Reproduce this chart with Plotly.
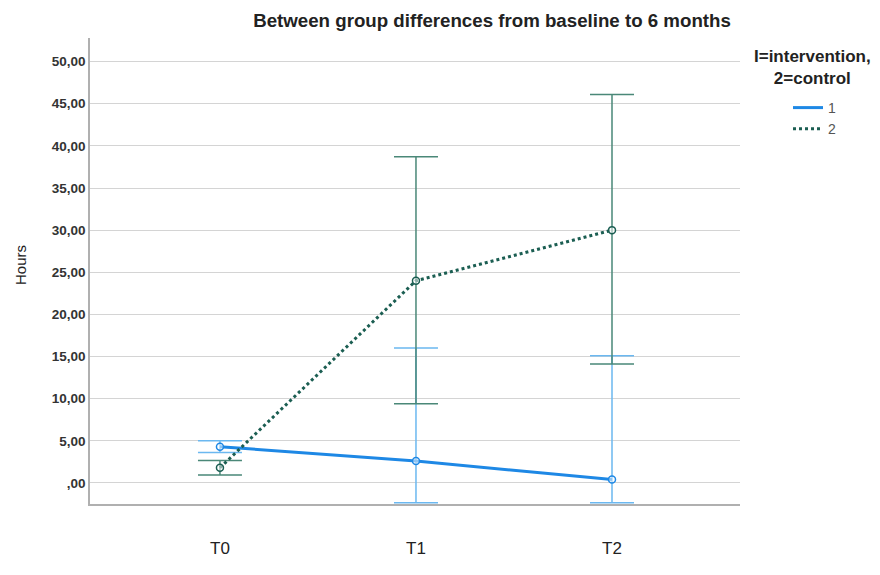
import plotly.graph_objects as go

times = ["T0", "T1", "T2"]
x_pos = [0, 1, 2]

g1_mean = [4.3, 2.6, 0.4]
g1_upper = [5.0, 16.0, 15.1]
g1_lower = [3.6, -2.35, -2.35]

g2_mean = [1.8, 24.0, 30.0]
g2_upper = [2.65, 38.7, 46.1]
g2_lower = [0.95, 9.4, 14.1]

y_ticks = [0, 5, 10, 15, 20, 25, 30, 35, 40, 45, 50]
y_ticktext = [",00", "5,00", "10,00", "15,00", "20,00", "25,00", "30,00",
              "35,00", "40,00", "45,00", "50,00"]

BLUE = "#1E88E5"
BLUE_ERR = "#6BB8F0"
GREEN = "#1B5E52"
GREEN_ERR = "#4A8878"

# page body has an 8px margin, so the figure is drawn 8px smaller and shifted
W, H = 872, 567
L, R, T, B = 82, 140, 30, 71
PW, PH = W - L - R, H - T - B

fig = go.Figure()

for name, mean, up, lo, col, ecol, dash in [
    ("1", g1_mean, g1_upper, g1_lower, BLUE, BLUE_ERR, "solid"),
    ("2", g2_mean, g2_upper, g2_lower, GREEN, GREEN_ERR, "dot"),
]:
    fig.add_trace(go.Scatter(
        x=x_pos, y=mean, name=name, mode="lines",
        line=dict(color=col, width=3, dash=dash),
        error_y=dict(type="data", symmetric=False,
                     array=[u - m for u, m in zip(up, mean)],
                     arrayminus=[m - l for m, l in zip(mean, lo)],
                     color=ecol, thickness=1.5, width=22),
    ))
for mean, col in [(g1_mean, BLUE), (g2_mean, GREEN)]:
    fig.add_trace(go.Scatter(
        x=x_pos, y=mean, mode="markers", showlegend=False, hoverinfo="skip",
        marker=dict(size=7, color="rgba(255,255,255,0.5)", line=dict(color=col, width=1.5)),
    ))

fig.update_layout(
    width=W, height=H,
    margin=dict(l=L, r=R, t=T, b=B),
    paper_bgcolor="white", plot_bgcolor="white",
    font=dict(family="Arial, Liberation Sans, sans-serif", color="#222"),
    showlegend=True,
    legend=dict(x=(780 - L) / PW, y=(H - B - 84) / PH, xanchor="left", yanchor="top",
                font=dict(size=14, color="#555"),
                bgcolor="rgba(0,0,0,0)", tracegroupgap=0, itemwidth=30),
    title=dict(text="<b>Between group differences from baseline to 6 months</b>",
               x=(484 - L) / PW, xref="paper", xanchor="center", y=1 - 12 / H, yanchor="middle",
               font=dict(size=18.7, color="#222")),
)

fig.update_xaxes(
    range=[-0.663, 2.653], tickmode="array", tickvals=x_pos, ticktext=times,
    showgrid=False, zeroline=False, showline=True, linecolor="#b0b0b0", linewidth=1.5,
    layer="below traces",
    ticks="", ticklabelstandoff=28, tickfont=dict(size=17, color="#222"),
)
fig.update_yaxes(
    range=[-2.5, 52.8], tickmode="array", tickvals=y_ticks, ticktext=y_ticktext,
    showgrid=True, gridcolor="#d4d4d4", gridwidth=1.2, zeroline=False,
    showline=True, linecolor="#b0b0b0", linewidth=1.5,
    layer="below traces",
    ticks="", tickfont=dict(size=13.5, color="#333", weight="bold"),
)

fig.add_annotation(text="Hours", xref="paper", yref="paper",
                   x=(12 - L) / PW, y=(H - B - 257) / PH, textangle=-90, showarrow=False,
                   font=dict(size=15, color="#222"), xanchor="center", yanchor="middle")

fig.add_annotation(text="<b>I=intervention,<br>2=control</b>", xref="paper", yref="paper",
                   x=(804 - L) / PW, y=(H - B - 59) / PH, showarrow=False, align="center",
                   font=dict(size=17, color="#222"), xanchor="center", yanchor="middle")

fig.write_html("out.html")
